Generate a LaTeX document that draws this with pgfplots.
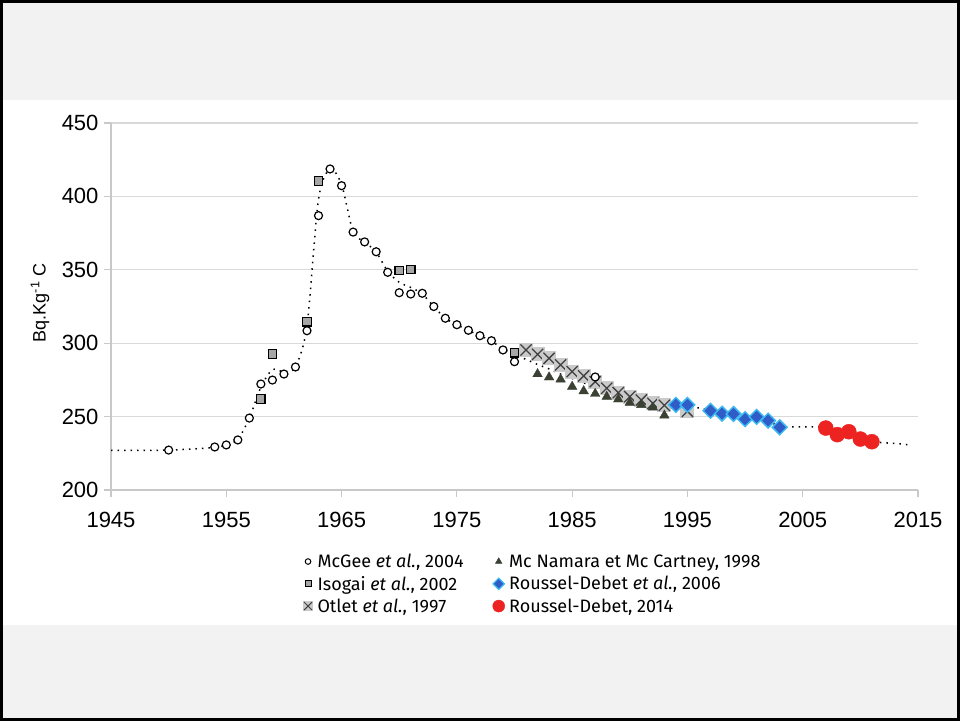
\documentclass[border=0pt]{standalone}
\usepackage{fontspec}
\setmainfont{Liberation Sans}
\newfontfamily\legfont{Fira Sans}
\usepackage{pgfplots}
\pgfplotsset{compat=1.18}
\definecolor{bandgray}{HTML}{F2F2F2}
\definecolor{gridgray}{HTML}{D9D9D9}
\definecolor{axgray}{HTML}{C8C8C8}
\definecolor{isogray}{HTML}{A6A6A6}
\definecolor{xbg}{HTML}{CACACA}
\definecolor{xfg}{HTML}{404040}
\definecolor{olivedark}{HTML}{3A4133}
\definecolor{dblue}{HTML}{2F5CC6}
\definecolor{lblue}{HTML}{3DB8F2}
\definecolor{rred}{HTML}{EC2320}
\pgfdeclareplotmark{xbox}{%
  \pgfpathrectangle{\pgfqpoint{-\pgfplotmarksize}{-\pgfplotmarksize}}{\pgfqpoint{2\pgfplotmarksize}{2\pgfplotmarksize}}%
  \pgfsetfillcolor{xbg}\pgfusepathqfill
  \pgfsetstrokecolor{xfg}%
  \pgfpathmoveto{\pgfqpoint{-0.8\pgfplotmarksize}{-0.8\pgfplotmarksize}}%
  \pgfpathlineto{\pgfqpoint{0.8\pgfplotmarksize}{0.8\pgfplotmarksize}}%
  \pgfpathmoveto{\pgfqpoint{-0.8\pgfplotmarksize}{0.8\pgfplotmarksize}}%
  \pgfpathlineto{\pgfqpoint{0.8\pgfplotmarksize}{-0.8\pgfplotmarksize}}%
  \pgfusepathqstroke}
\begin{document}
\begin{tikzpicture}
\fill[black] (0pt,0pt) rectangle (960pt,721pt);
\fill[bandgray] (3pt,3pt) rectangle (957pt,718pt);
\fill[white] (3pt,96pt) rectangle (957pt,621pt);
\begin{axis}[
  at={(111pt,231pt)}, anchor=south west,
  scale only axis, width=807pt, height=367pt,
  xmin=1945, xmax=2015, ymin=200, ymax=450,
  xtick={1945,1955,...,2015}, ytick={200,250,...,450},
  axis x line*=bottom, axis y line*=left,
  axis line style={draw=axgray, line width=1.2pt},
  tick style={draw=axgray, line width=1.2pt},
  tick align=outside, major tick length=7pt,
  ymajorgrids, grid style={draw=gridgray, line width=1.3pt},
  ticklabel style={font=\fontsize{22}{25}\selectfont, /pgf/number format/assume math mode=true, /pgf/number format/1000 sep={}},
  xticklabel style={yshift=-12pt},
  yticklabel style={xshift=-2pt},
  ylabel={Bq.Kg\textsuperscript{-1} C},
  every axis y label/.style={at={(axis description cs:-0.088,0.51)}, rotate=90, anchor=center, font=\fontsize{18}{21}\selectfont},
  legend columns=2,
  legend cell align=left,
  legend style={draw=none, fill=none, at={(axis description cs:0.234,-0.163)}, anchor=north west,
    font=\legfont\fontsize{18}{21}\selectfont, row sep=3pt,
    /tikz/every odd column/.append style={column sep=2.5pt},
    /tikz/every even column/.append style={column sep=27pt}},
]
% dotted trend line
\addplot[forget plot, black, line width=1.5pt, dash pattern=on 1.5pt off 5pt, smooth] coordinates {
(1945,227) (1950,227.2) (1954,229) (1955,231) (1956,234.5) (1957,249) (1958,270) (1959,282) (1960,280.5) (1961,284)
(1962,312) (1963,398) (1964,418.5) (1965,408) (1966,376) (1967,369) (1968,362) (1969,349) (1970,341.5) (1971,338)
(1972,333.5) (1973,325) (1974,317) (1975,312.6) (1976,308.8) (1977,305.1) (1978,301.5) (1979,296) (1980,292)
(1981,289) (1982,285.5) (1983,282.5) (1984,279) (1985,276) (1986,273) (1987,270) (1988,267) (1989,264.5) (1990,262)
(1991,260) (1992,258) (1993,256.5) (1994,255.8) (1995,255.5) (1996,256) (1997,254) (1998,252) (1999,251.3) (2000,249)
(2001,248.8) (2002,246.8) (2003,243.5) (2004,243) (2005,243) (2006,243) (2007,242.3) (2008,238.5) (2009,238.8)
(2010,235) (2011,233) (2012,232.2) (2013,231.7) (2014.5,230.6)
};
% Otlet et al., 1997
\addplot[forget plot, only marks, mark=xbox, mark size=7pt, mark options={line width=1.3pt}] coordinates {
(1981,295.4) (1982,292.4) (1983,289.7) (1984,285.2) (1985,280.6) (1986,277.7) (1987,273.8) (1988,269.3)
(1989,266.3) (1990,263.6) (1991,261.3) (1992,259) (1993,257.7) (1995,253.6)
};
% Mc Namara et Mc Cartney, 1998
\addplot[forget plot, only marks, mark=triangle*, mark size=5.5pt, mark options={fill=olivedark, draw=olivedark}] coordinates {
(1982,279) (1983,276.8) (1984,275.4) (1985,270.4) (1986,267.4) (1987,265.6) (1988,263.6) (1989,261.8)
(1990,259.5) (1991,258) (1992,256.3) (1993,250.8)
};
% McGee et al., 2004
\addplot[forget plot, only marks, mark=*, mark size=4pt, mark options={fill=white, draw=black, line width=1.2pt}] coordinates {
(1950,227.2) (1954,229.3) (1955,230.7) (1956,234.1) (1957,249) (1958,272.2) (1959,274.9) (1960,279) (1961,283.8)
(1962,308.5) (1963,386.9) (1964,418.7) (1965,407.3) (1966,375.7) (1967,369) (1968,362.3) (1969,348.3) (1970,334.4)
(1971,333.5) (1972,334) (1973,325) (1974,317) (1975,312.6) (1976,308.8) (1977,305.1) (1978,301.7) (1979,295.4)
(1980,287.4) (1987,277)
};
% Isogai et al., 2002
\addplot[forget plot, only marks, mark=square*, mark size=4.2pt, mark options={fill=isogray, draw=black, line width=1.2pt}] coordinates {
(1958,262) (1959,292.6) (1962,314.6) (1963,410.5) (1970,349.4) (1971,350.3) (1980,293.5)
};
% Roussel-Debet et al., 2006
\addplot[forget plot, only marks, mark=square*, mark size=5.2pt, mark options={rotate=45, fill=dblue, draw=lblue, line width=1.5pt}] coordinates {
(1994,258) (1995,258) (1997,254) (1998,252) (1999,251.8) (2000,248.3) (2001,249.8) (2002,247.3) (2003,242.7)
};
% Roussel-Debet, 2014
\addplot[forget plot, only marks, mark=*, mark size=7.5pt, mark options={fill=rred, draw=rred}] coordinates {
(2007,242.2) (2008,237.7) (2009,239.7) (2010,234.7) (2011,232.9)
};
% legend (row-wise: col1 / col2)
\addlegendimage{only marks, mark=*, mark size=2.8pt, mark options={fill=white, draw=black, line width=1pt}}
\addlegendentry{McGee \textit{et al.}, 2004}
\addlegendimage{only marks, mark=triangle*, mark size=3.8pt, mark options={fill=olivedark, draw=olivedark}}
\addlegendentry{Mc Namara et Mc Cartney, 1998}
\addlegendimage{only marks, mark=square*, mark size=3pt, mark options={fill=isogray, draw=black, line width=1pt}}
\addlegendentry{Isogai \textit{et al.}, 2002}
\addlegendimage{only marks, mark=square*, mark size=4pt, mark options={rotate=45, fill=dblue, draw=lblue, line width=1.2pt}}
\addlegendentry{Roussel-Debet \textit{et al.}, 2006}
\addlegendimage{only marks, mark=xbox, mark size=5pt, mark options={line width=1pt}}
\addlegendentry{Otlet \textit{et al.}, 1997}
\addlegendimage{only marks, mark=*, mark size=6pt, mark options={fill=rred, draw=rred}}
\addlegendentry{Roussel-Debet, 2014}
\end{axis}
\end{tikzpicture}
\end{document}
